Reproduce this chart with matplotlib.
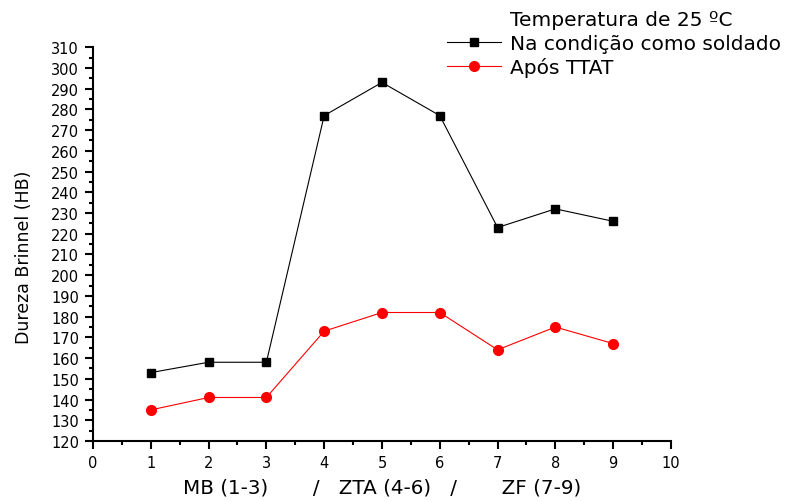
import matplotlib
matplotlib.use("Agg")
import matplotlib.pyplot as plt
from matplotlib.ticker import MultipleLocator

plt.rcParams['font.family'] = ['DejaVu Sans']

x = [1, 2, 3, 4, 5, 6, 7, 8, 9]
soldado = [153, 158, 158, 277, 293, 277, 223, 232, 226]
ttat = [135, 141, 141, 173, 182, 182, 164, 175, 167]
legend_title = "Temperatura de 25 ºC"
label_soldado = "Na condição como soldado"
label_ttat = "Após TTAT"
xlabel = "MB (1-3)       /   ZTA (4-6)   /       ZF (7-9)"
ylabel = "Dureza Brinnel (HB)"

fig = plt.figure(figsize=(7.88, 5.02), dpi=100)
ax = fig.add_axes([0.118, 0.1195, 0.7335, 0.7845])

l1, = ax.plot(x, soldado, color='black', lw=0.8, marker='s', ms=6, label=label_soldado)
l2, = ax.plot(x, ttat, color='red', lw=0.8, marker='o', ms=7, label=label_ttat)

ax.set_xlim(0, 10)
ax.set_ylim(120, 310)
ax.xaxis.set_major_locator(MultipleLocator(1))
ax.xaxis.set_minor_locator(MultipleLocator(0.5))
ax.yaxis.set_major_locator(MultipleLocator(10))
ax.yaxis.set_minor_locator(MultipleLocator(5))
for s in ['top', 'right']:
    ax.spines[s].set_visible(False)
for s in ['left', 'bottom']:
    ax.spines[s].set_linewidth(1.5)
ax.tick_params(which='major', direction='out', length=6, width=1.5, labelsize=10.5, pad=4)
ax.tick_params(which='minor', direction='out', length=3, width=1.5)

ax.set_xlabel(xlabel, fontsize=14.3, va='center')
ax.xaxis.set_label_coords(0.5, -(488 - 442) / 394)
ax.set_ylabel(ylabel, fontsize=12.5, va='center')
ax.yaxis.set_label_coords((24 - 93) / 578, (442 - 257) / 394)

leg = fig.legend(handles=[l1, l2], loc='upper left',
                 bbox_to_anchor=(447 / 788, 1 - 35 / 502), frameon=False, fontsize=14.5,
                 handlelength=2.7, handletextpad=0.45,
                 labelspacing=0.2, borderaxespad=0, borderpad=0)
fig.text(510 / 788, 1 - 20 / 502, legend_title, fontsize=14.5, va='center', ha='left')

fig.savefig("out.png", dpi=100)
